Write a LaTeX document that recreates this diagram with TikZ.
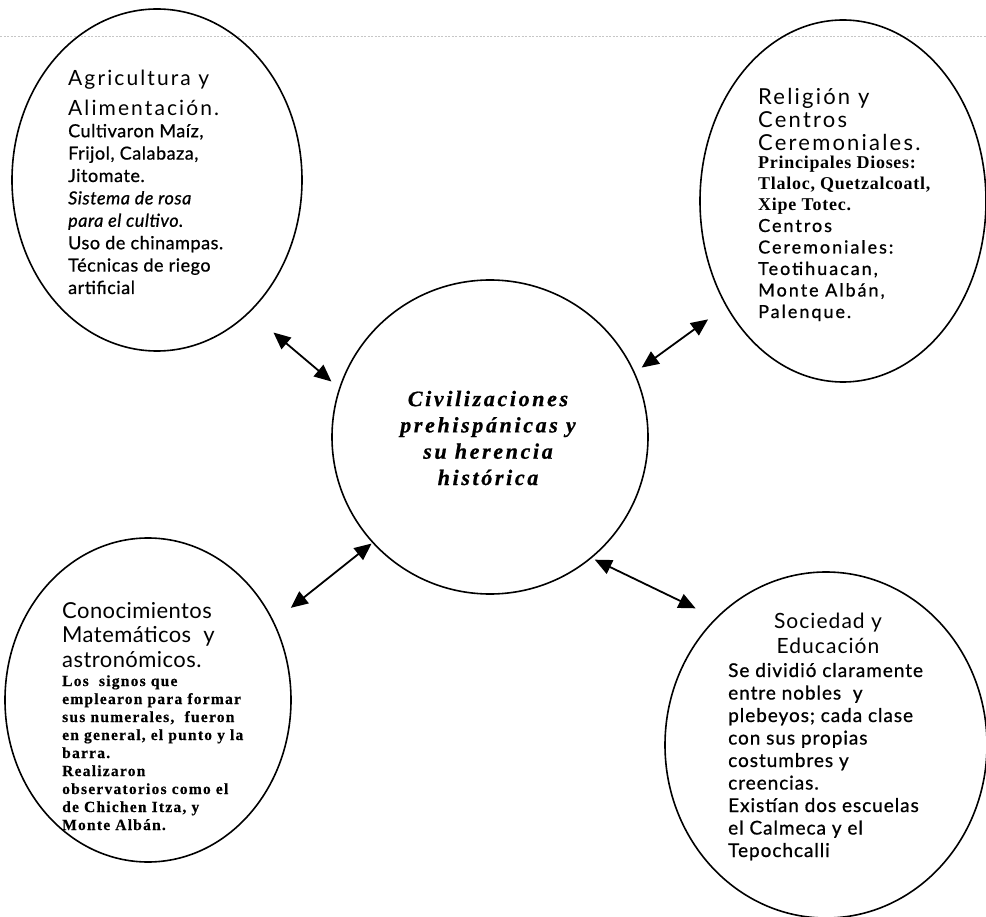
\documentclass[tikz,border=0pt]{standalone}
\usepackage{fontspec}
\setmainfont{Liberation Serif}
% humanist sans for headings, a slightly heavier cut for the running text
\newfontfamily\gillwide[LetterSpace=10]{Lato}
\newfontfamily\gillmid[LetterSpace=5]{Lato}
\newfontfamily\gilltight[LetterSpace=2]{Lato}
\newfontfamily\gillbody[LetterSpace=3,FakeBold=0.8]{Lato}
\newfontfamily\gillrel[LetterSpace=11,FakeBold=0.8]{Lato}
\newfontfamily\gillsoc[LetterSpace=5,FakeBold=0.8]{Lato}
\newfontfamily\timesbold[LetterSpace=4]{Liberation Serif}
\newfontfamily\timessmall[LetterSpace=8,FakeBold=0.4]{Liberation Serif}
\newfontfamily\timeswide[LetterSpace=12,FakeBold=0.8]{Liberation Serif}
\usetikzlibrary{shapes.geometric,arrows.meta}
\tikzset{
  topic/.style={draw, ellipse, line width=1.6pt, inner sep=0pt},
  biarrow/.style={line width=1.8pt, {Triangle[length=17pt,width=15pt]}-{Triangle[length=17pt,width=15pt]}},
  % multi-line nodes: the base anchor sits on the last line
  txt/.style={inner sep=0pt, anchor=base west, align=left},
  ctxt/.style={inner sep=0pt, anchor=base, align=center}
}
\begin{document}
\begin{tikzpicture}[x=1pt,y=-1pt]
\useasboundingbox (0,0) rectangle (986,917);
% faint scan line along the top
\draw[gray!45, line width=0.8pt, dash pattern=on 2pt off 1.5pt] (0,36) -- (986,36);

% the five bubbles
\node[topic, minimum width=290pt, minimum height=342pt] (agr) at (157,180) {};
\node[topic, minimum width=286pt, minimum height=362pt] (rel) at (843,201) {};
\node[topic, minimum width=286pt, minimum height=324pt] (con) at (148,700) {};
\node[topic, minimum width=322pt, minimum height=346pt] (soc) at (826,745) {};
\node[topic, minimum width=316pt, minimum height=314pt] (hub) at (490,437) {};

% centre title
\node[ctxt, font={\timeswide\bfseries\itshape\fontsize{22}{26.3}\selectfont}] (title) at (488,485)
  {Civilizaciones\\prehispánicas y\\su herencia\\histórica};

% agriculture
\node[txt, font={\gillwide\fontsize{21}{30}\selectfont}] (agrh) at (68,116)
  {Agricultura y\\Alimentación.};
\node[txt, font={\gillbody\fontsize{18}{22.4}\selectfont}] (agrb) at (68,294)
  {Cultivaron Maíz,\\Frijol, Calabaza,\\Jitomate.\\\textit{Sistema de rosa}\\\textit{para el cultivo.}\\Uso de chinampas.\\Técnicas de riego\\artificial};

% religion
\node[txt, font={\gillwide\fontsize{22}{23}\selectfont}] (relh) at (758,151)
  {Religión y\\Centros\\Ceremoniales.};
\node[txt, font={\timesbold\bfseries\fontsize{18}{21}\selectfont}] (relb) at (758,211)
  {Principales Dioses:\\Tlaloc, Quetzalcoatl,\\Xipe Totec.};
\node[txt, font={\gillrel\fontsize{18}{21.5}\selectfont}] (relc) at (758,318)
  {Centros\\Ceremoniales:\\Teotihuacan,\\Monte Albán,\\Palenque.};

% mathematics and astronomy
\node[txt, font={\gilltight\fontsize{22}{24.5}\selectfont}] (conh) at (62,667)
  {Conocimientos\\Matemáticos\ \ y\\astronómicos.};
\node[txt, font={\timessmall\bfseries\fontsize{15.5}{18}\selectfont}] (conb) at (62,830)
  {Los\ \ signos que\\emplearon para formar\\sus numerales,\ \ fueron\\en general, el punto y la\\barra.\\Realizaron\\observatorios como el\\de Chichen Itza, y\\Monte Albán.};

% society and education
\node[ctxt, font={\gillmid\fontsize{21}{24.5}\selectfont}] (soch) at (828,653)
  {Sociedad y\\Educación};
\node[txt, font={\gillsoc\fontsize{19}{22.5}\selectfont}] (socb) at (728,857)
  {Se dividió claramente\\entre nobles\ \ y\\plebeyos; cada clase\\con sus propias\\costumbres y\\creencias.\\Existían dos escuelas\\el Calmeca y el\\Tepochcalli};

% two-way links between the centre and each bubble
\draw[biarrow, shorten <=31pt, shorten >=10pt] (agr.-55.1) -- (hub.162);
\draw[biarrow, shorten <=8.4pt, shorten >=22pt] (hub.24.4) -- (rel.-138.4);
\draw[biarrow, shorten <=1pt, shorten >=21.6pt] (hub.-138.3) -- (con.32.1);
\draw[biarrow, shorten <=3.4pt, shorten >=22.2pt] (hub.-50.5) -- (soc.131.6);
\end{tikzpicture}
\end{document}
